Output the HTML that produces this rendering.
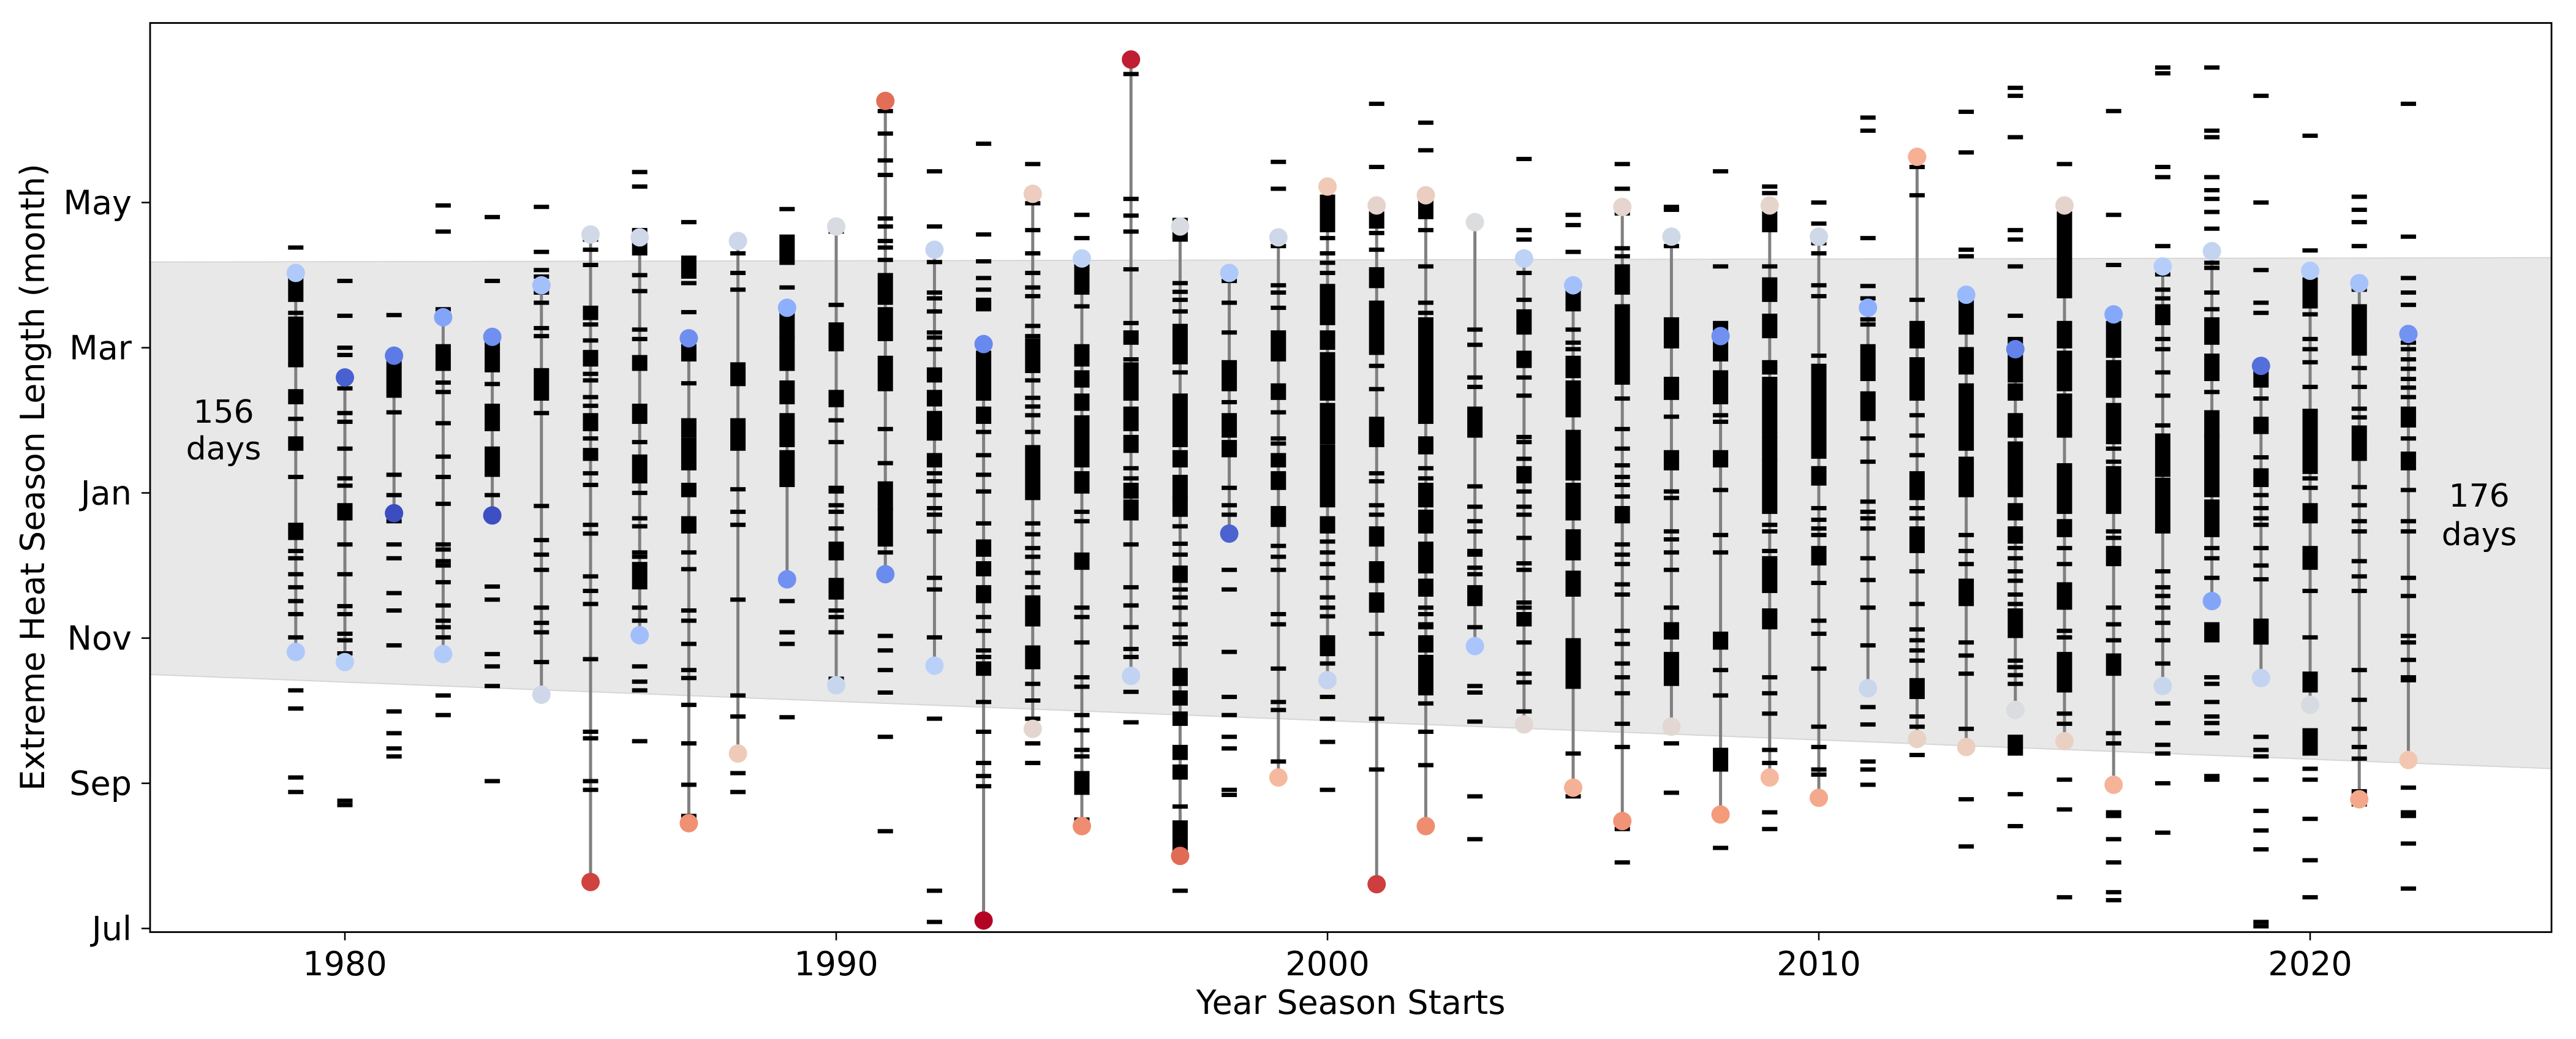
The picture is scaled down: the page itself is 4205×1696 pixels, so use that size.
<!DOCTYPE html>
<html><head><meta charset="utf-8"><style>
html,body{margin:0;padding:0;background:#fff;}
svg{display:block;font-family:"DejaVu Sans","Liberation Sans",sans-serif;}
</style></head><body>
<svg id="chart" width="4205" height="1696" viewBox="0 0 4205 1696" xmlns="http://www.w3.org/2000/svg">
<rect width="4205" height="1696" fill="#fff"/>
<g id="band"></g>
<g id="stems"></g>
<g id="dashes"></g>
<g id="dots"></g>
<rect x="245" y="37.5" width="3920" height="1484" fill="none" stroke="#000" stroke-width="2.8"/>
<g id="axes"></g>
<text x="365" y="690" font-size="52" text-anchor="middle">156</text>
<text x="365" y="750" font-size="52" text-anchor="middle">days</text>
<text x="4047" y="827" font-size="52" text-anchor="middle">176</text>
<text x="4047" y="890" font-size="52" text-anchor="middle">days</text>
<text x="2205" y="1655" font-size="54" text-anchor="middle">Year Season Starts</text>
<text x="0" y="0" font-size="54" text-anchor="middle" transform="translate(72,779) rotate(-90)">Extreme Heat Season Length (month)</text>
</svg>
<script>
const years = [1979,1980,1981,1982,1983,1984,1985,1986,1987,1988,1989,1990,1991,1992,1993,1994,1995,1996,1997,1998,1999,2000,2001,2002,2003,2004,2005,2006,2007,2008,2009,2010,2011,2012,2013,2014,2015,2016,2017,2018,2019,2020,2021,2022];
const startMonth = [3.81,3.67,5.72,3.78,5.69,3.22,0.64,4.04,1.45,2.41,4.81,3.35,4.88,3.62,0.11,2.75,1.41,3.48,1.0,5.44,2.08,3.42,0.61,1.41,3.89,2.81,1.94,1.48,2.78,1.57,2.08,1.8,3.31,2.61,2.5,3.01,2.58,1.98,3.34,4.51,3.45,3.08,1.78,2.32];
const endMonth = [9.03,7.59,7.89,8.42,8.15,8.86,9.56,9.52,8.13,9.47,8.55,9.67,11.4,9.35,8.05,10.12,9.23,11.97,9.67,9.03,9.52,10.22,9.96,10.1,9.73,9.23,8.86,9.94,9.53,8.16,9.96,9.53,8.55,10.63,8.73,7.98,9.96,8.46,9.12,9.33,7.75,9.06,8.89,8.19];
const bandLeft = [1976, 9.18, 3.50];
const bandRight = [2025, 9.24, 2.20];
const yTickValues = [0,2,4,6,8,10];
const yTickLabels = ["Jul","Sep","Nov","Jan","Mar","May"];
const xTickValues = [1980,1990,2000,2010,2020];
const events = [
[9.38,[9.03,8.66],8.48,[8.4,7.8],7.76,[7.4,7.25],7.02,[6.75,6.61],6.22,[5.56,5.38],5.2,5.1,4.88,4.7,4.51,4.33,4.01,3.28,3.03,2.08,1.88],
[8.92,8.44,8.0,7.9,7.44,7.1,6.98,6.61,6.2,6.1,[5.83,5.65],5.29,4.88,4.44,4.33,4.06,3.97,3.79,1.76,1.70],
[8.45,[7.8,7.34],7.11,6.25,5.97,5.61,5.29,5.1,4.62,4.38,3.9,2.99,2.69,2.48,2.37],
[9.96,9.6,8.53,[8.02,7.71],7.52,7.39,6.96,6.5,6.22,5.85,5.29,5.22,5.06,5.0,4.77,4.45,4.24,4.15,4.01,3.21,2.94],
[9.8,8.92,[8.07,7.69],7.5,[7.2,6.88],[6.61,6.25],5.97,4.71,4.53,3.78,3.61,3.34,2.03],
[9.94,9.32,9.07,8.98,8.76,8.62,8.27,8.16,[7.69,7.3],7.1,5.82,5.35,5.15,4.94,4.42,4.21,4.08,3.67],
[9.49,9.35,9.14,[8.55,8.41],8.32,8.1,[7.94,7.77],7.64,7.55,7.32,7.2,[7.07,6.88],6.75,[6.59,6.47],6.27,6.11,5.56,5.44,4.85,4.65,4.47,3.71,2.71,2.62,2.03,1.91],
[10.42,10.22,[9.62,9.3],9.0,8.78,8.25,8.12,[7.87,7.71],[7.2,6.98],6.7,[6.5,6.16],6.0,5.65,5.54,5.18,5.12,[5.02,4.7],4.42,4.24,3.61,3.4,3.28,2.58],
[9.73,[9.24,8.98],8.89,8.49,[8.02,7.84],7.51,[7.0,6.79],[6.73,6.34],[6.11,5.97],[5.65,5.47],5.18,4.95,4.38,4.24,3.92,3.56,3.45,3.08,2.55,1.98,1.55],
[9.3,9.03,8.8,[7.77,7.5],[7.0,6.61],6.05,5.74,5.56,4.53,3.21,2.92,2.14,1.88],
[9.91,[9.53,9.17],8.83,[8.49,8.16],[8.12,7.71],[7.52,7.25],[7.07,6.66],[6.56,6.11],4.51,4.08,3.92,2.91],
[9.6,8.59,[8.32,7.98],[7.39,7.21],7.0,6.7,6.07,6.02,5.83,5.74,5.51,[5.3,5.1],[4.8,4.56],4.38,4.29,4.08,3.44],
[11.26,10.95,10.58,10.38,9.78,9.67,9.47,9.38,9.21,[9.0,8.62],[8.53,8.12],[7.86,7.43],6.88,6.41,[6.13,5.79],[5.76,5.29],5.18,4.03,3.83,3.56,3.25,2.64,1.34],
[10.43,9.67,9.18,8.76,8.68,8.5,8.21,8.14,7.98,[7.7,7.55],[7.39,7.22],[7.1,6.75],[6.52,6.38],6.27,6.16,5.97,5.79,5.7,5.47,4.83,4.67,4.01,2.89,0.52,0.09],
[10.81,9.56,9.19,8.96,8.8,[8.66,8.53],[7.93,7.3],[7.16,6.98],6.84,6.52,6.25,6.02,5.58,[5.33,5.15],[5.03,4.88],[4.7,4.51],4.29,4.1,3.83,3.74,[3.65,3.51],3.12,2.71,2.28,2.1,1.96],
[10.53,9.99,9.62,9.3,9.03,8.83,8.71,8.3,8.16,[8.1,7.68],7.55,7.31,7.19,7.07,6.84,[6.63,5.93],5.58,5.43,5.24,5.12,4.9,4.7,4.56,[4.51,4.19],[3.87,3.6],3.37,3.14,2.89,2.55,2.28],
[9.83,9.51,[9.12,8.76],8.57,[8.02,7.77],[7.66,7.48],[7.34,7.16],[7.04,6.61],[6.56,6.38],[6.27,6.02],5.74,5.61,[5.15,4.97],4.42,4.29,3.94,3.46,3.33,2.94,2.73,2.46,2.37,[2.14,1.87],1.5],
[11.77,10.05,9.82,9.6,9.08,8.34,[8.21,8.07],7.84,[7.77,7.3],[7.16,6.88],[6.77,6.58],6.34,6.2,[6.11,5.95],[5.88,5.65],5.29,4.7,4.45,4.15,3.85,3.74,3.26,2.84],
[[9.76,9.49],8.89,8.77,8.66,8.5,[8.3,7.8],7.66,[7.34,6.66],[6.56,6.38],[6.22,5.93],[5.92,5.7],5.54,5.3,5.15,[4.97,4.79],4.67,4.56,4.42,4.19,4.01,3.92,[3.56,3.37],[3.25,3.1],[2.96,2.82],[2.5,2.35],[2.23,2.08],1.68,[1.46,1.07],0.52],
[8.92,8.62,8.21,[7.8,7.66],[7.61,7.43],7.25,[7.07,6.79],[6.7,6.52],6.07,5.83,5.7,4.94,4.67,3.81,3.19,2.94,2.64,2.48,1.91,1.84],
[10.56,10.19,9.4,8.86,8.76,8.55,[8.21,7.84],[7.48,7.31],7.11,6.75,6.68,[6.52,6.38],[6.27,6.07],[5.79,5.56],5.27,5.12,4.94,4.33,4.19,3.58,3.12,3.01,2.3],
[[10.08,9.62],9.51,9.3,9.17,9.03,[8.85,8.57],[8.53,8.34],[8.21,8.0],[7.91,7.3],[7.21,6.7],[6.64,5.83],[5.65,5.47],5.33,5.18,5.02,4.83,4.56,4.42,4.3,[4.01,3.83],3.78,3.65,3.19,2.89,2.57,1.91],
[11.36,10.49,[9.85,9.67],9.58,9.35,[9.08,8.85],[8.62,7.93],7.75,7.43,[7.02,6.66],6.27,6.16,5.83,5.7,[5.51,5.29],[5.03,4.79],[4.6,4.38],4.06,2.89,2.19],
[11.1,10.72,[10.03,9.8],9.62,9.12,8.62,8.48,[8.39,6.98],[6.75,6.56],6.34,6.2,[6.11,5.83],[5.74,5.47],[5.3,4.92],[4.79,4.6],4.42,4.33,4.19,4.15,[4.01,3.83],[3.74,3.24],3.1,2.71,2.25],
[8.25,8.04,7.59,7.46,[7.16,6.79],6.09,5.81,5.61,5.47,5.2,5.15,4.97,4.88,[4.7,4.47],4.15,3.34,3.25,2.85,1.82,1.23],
[10.6,9.62,9.49,9.03,8.66,[8.5,8.21],[7.93,7.75],7.59,7.34,6.77,6.7,6.47,[6.34,6.16],6.02,5.81,5.7,5.38,5.03,4.94,4.49,4.42,[4.33,4.19],3.94,3.51,3.39,2.99],
[9.83,9.69,9.32,[8.76,8.53],8.25,8.07,7.98,[7.86,7.61],[7.52,7.07],[6.84,6.2],[6.11,5.65],[5.47,5.1],[4.9,4.6],[3.97,3.33],2.41,1.82],
[10.53,10.19,9.85,9.37,9.26,[9.12,8.76],[8.57,7.52],7.3,6.88,6.61,6.38,6.22,6.11,5.95,[5.79,5.61],5.29,5.15,5.02,4.74,4.6,4.1,3.92,3.65,3.46,3.24,2.82,2.5,1.37,0.91],
[9.94,9.9,9.4,[8.39,8.02],[7.57,7.31],7.05,[6.56,6.34],6.02,5.93,5.47,5.36,5.18,4.94,4.42,[4.19,4.01],[3.78,3.37],2.55,1.87],
[10.43,9.12,[8.34,7.84],[7.66,7.25],7.07,6.98,[6.56,6.38],6.04,5.42,5.18,[4.06,3.87],3.56,3.21,[2.46,2.19],1.11],
[10.22,10.13,[9.85,9.62],9.12,[8.94,8.66],[8.44,8.16],[7.8,7.66],[7.57,6.79],[6.75,6.47],[6.43,5.74],5.56,5.47,5.2,5.1,[5.06,4.65],[4.38,4.15],3.46,3.24,2.96,2.46,2.28,1.6,1.37],
[10.0,9.71,9.44,9.3,8.86,8.71,7.89,[7.75,6.5],[6.34,6.13],5.79,5.63,5.51,5.42,[5.24,5.03],4.76,4.24,4.06,3.58,2.78,2.5,2.19,2.12],
[11.17,10.99,9.51,8.85,8.68,8.39,8.32,[8.02,7.57],[7.37,7.02],6.75,6.43,5.88,5.74,5.65,5.51,5.1,4.8,4.42,3.9,3.05,2.81,2.3,2.19,1.98],
[10.49,10.1,8.66,[8.34,8.02],[7.84,7.3],7.07,6.79,6.52,[6.27,5.93],5.79,5.65,[5.51,5.2],4.92,4.47,4.12,3.97,3.83,3.69,[3.42,3.19],2.92,2.78,2.39],
[11.25,10.69,9.35,9.26,[8.66,8.21],[7.98,7.66],[7.48,6.61],[6.47,5.97],5.42,5.2,5.02,[4.79,4.47],3.94,3.76,3.51,2.75,1.78,1.13],
[11.58,11.47,10.9,9.62,9.49,9.12,8.44,[8.12,7.55],[7.48,7.3],[7.07,6.79],[6.68,6.16],[6.11,5.97],[5.83,5.65],[5.51,5.33],5.24,5.1,4.92,4.79,4.6,4.47,[4.38,4.03],3.69,3.6,3.49,3.37,[2.64,2.41],1.85,1.41],
[10.53,[9.85,9.35],[9.3,8.71],[8.34,8.02],[7.93,7.43],[7.34,6.79],[6.38,5.74],[5.61,5.42],5.24,5.02,[4.74,4.42],4.1,4.01,[3.78,3.28],2.96,2.82,2.05,1.64,0.43],
[11.26,9.83,9.14,[8.34,7.89],[7.8,7.34],[7.21,6.7],6.61,6.43,[6.34,5.74],5.47,5.38,[5.24,5.02],4.42,4.19,3.97,[3.76,3.51],2.69,2.55,1.6,1.55,1.23,0.91,0.5,0.39],
[11.86,11.78,10.49,10.35,9.4,9.01,8.8,8.68,[8.57,8.34],8.12,7.98,7.66,7.34,6.93,[6.79,6.25],[6.18,5.51],5.47,4.92,4.7,4.58,4.42,4.21,3.97,3.65,3.1,2.83,2.53,2.41,2.0,1.32],
[11.86,10.99,10.9,10.35,10.17,10.05,9.87,9.64,9.17,9.1,8.76,8.53,[8.39,8.07],[7.89,7.57],7.39,[7.11,6.79],[6.79,5.97],[5.88,5.42],5.24,5.1,4.83,[4.19,3.97],3.46,3.37,3.12,2.92,2.83,2.69,2.1,2.05],
[11.47,10.0,9.07,8.62,8.48,[7.66,7.48],7.3,[7.02,6.84],6.49,[6.31,6.11],5.97,5.79,5.65,5.56,5.24,5.0,4.81,[4.24,3.94],2.64,2.46,2.37,2.05,1.62,1.35,1.09,0.09,0.03],
[10.92,9.34,[8.94,8.57],8.46,8.12,7.98,7.8,7.46,[7.13,6.29],6.2,6.07,[5.83,5.61],[5.24,4.97],4.65,4.01,[3.51,3.28],[2.73,2.41],2.2,2.05,1.51,0.94,0.43],
[10.08,9.9,9.73,9.4,8.8,[8.57,7.92],7.72,7.46,7.16,7.04,[6.9,6.47],6.08,5.83,5.61,5.47,5.06,4.85,4.65,3.56,3.15,2.75,2.5,2.34,[1.89,1.71]],
[11.36,9.53,8.96,8.76,8.59,8.07,7.98,7.84,7.71,7.57,7.45,7.32,[7.16,6.93],6.75,[6.54,6.34],6.04,5.61,5.47,4.83,4.58,4.03,3.94,3.7,3.46,3.42,1.94,1.6,1.55,1.17,0.55]
];

const NS = "http://www.w3.org/2000/svg";
const X0 = 563, XPY = 80.2;
const Y0 = 1515.6, YPM = 118.5;
function xScale(yr){ return X0 + (yr - 1980) * XPY; }
function yScale(m){ return Y0 - m * YPM; }
function mk(tag, attrs, parent){
  const e = document.createElementNS(NS, tag);
  for (const k in attrs) e.setAttribute(k, attrs[k]);
  parent.appendChild(e);
  return e;
}
const cw = [[59,76,192],[98,130,234],[141,176,254],[184,208,249],[221,221,221],[245,196,173],[244,154,123],[222,96,77],[180,4,38]];
function coolwarm(t){
  t = Math.max(0, Math.min(1, t));
  const p = t * 8, i = Math.min(7, Math.floor(p)), f = p - i;
  const a = cw[i], b = cw[i+1];
  return "rgb(" + a.map((v,k)=>Math.round(v + (b[k]-v)*f)).join(",") + ")";
}

// band
const band = document.getElementById("band");
const xl = 245, xr = 4165;
const tl = (xl - X0)/XPY + 1980, tr = (xr - X0)/XPY + 1980;
function lerpBand(yr, idx){ return bandLeft[idx] + (bandRight[idx]-bandLeft[idx])*(yr-bandLeft[0])/(bandRight[0]-bandLeft[0]); }
const poly = mk("polygon", {points:
  xl+","+yScale(lerpBand(tl,1))+" "+xr+","+yScale(lerpBand(tr,1))+" "+xr+","+yScale(lerpBand(tr,2))+" "+xl+","+yScale(lerpBand(tl,2)),
  fill:"#e8e8e8", stroke:"#d6d6d6", "stroke-width":"2"}, band);



const stems = document.getElementById("stems");
const dashes = document.getElementById("dashes");
const dots = document.getElementById("dots");
years.forEach((yr, i) => {
  const cx = xScale(yr);
  const s = mk("line", {x1:cx, x2:cx, y1:yScale(startMonth[i]), y2:yScale(endMonth[i]), stroke:"#808080", "stroke-width":"5"}, stems);
  
  
  events[i].forEach(ev => {
    let top, bot;
    if (Array.isArray(ev)) { top = yScale(ev[0]) - 3.5; bot = yScale(ev[1]) + 3.5; }
    else { top = yScale(ev) - 3.5; bot = yScale(ev) + 3.5; }
    const r = mk("rect", {x:cx-12.5, y:top, width:25, height:bot-top, fill:"#000"}, dashes);
    
    
  });
  const ts = 0.5 - (startMonth[i] - 2.95) * 0.18;
  const te = 0.5 + (endMonth[i] - 9.75) * 0.21;
  const d1 = mk("circle", {cx:cx, cy:yScale(startMonth[i]), r:15, fill:coolwarm(ts)}, dots);
  
  
  const d2 = mk("circle", {cx:cx, cy:yScale(endMonth[i]), r:15, fill:coolwarm(te)}, dots);
  
  
});

// axes
const axes = document.getElementById("axes");
yTickValues.forEach((v, i) => {
  const y = yScale(v);
  const t = mk("line", {x1:231, x2:245, y1:y, y2:y, stroke:"#000", "stroke-width":"2.5"}, axes);
  
  
  const l = mk("text", {x:215, y:y+19, "font-size":"54", "text-anchor":"end"}, axes);
  l.textContent = yTickLabels[i];
  
  
});
xTickValues.forEach(v => {
  const x = xScale(v);
  const t = mk("line", {x1:x, x2:x, y1:1521, y2:1535, stroke:"#000", "stroke-width":"2.5"}, axes);
  
  
  const l = mk("text", {x:x, y:1592, "font-size":"54", "text-anchor":"middle"}, axes);
  l.textContent = String(v);
  
  
});
</script>
</body></html>
